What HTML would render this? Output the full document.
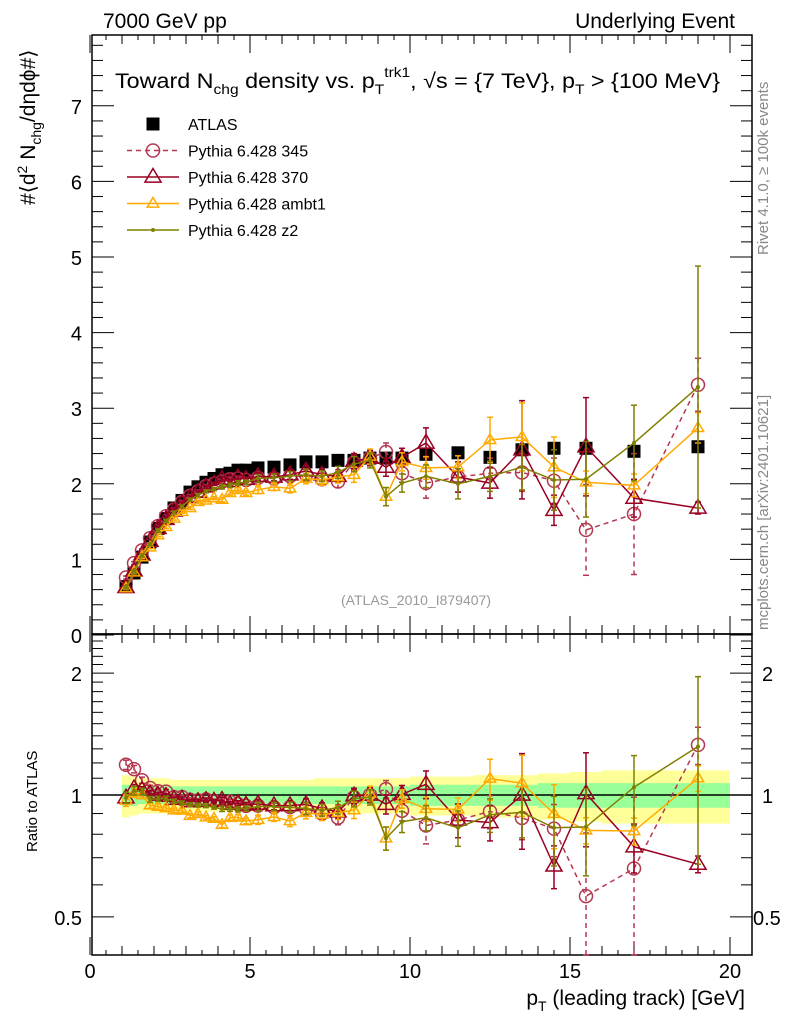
<!DOCTYPE html>
<html><head><meta charset="utf-8"><style>
body{margin:0;background:#fff;}
svg{display:block;font-family:"Liberation Sans",sans-serif;}
</style></head><body>
<svg id="c" width="786" height="1024" viewBox="0 0 786 1024" xmlns="http://www.w3.org/2000/svg"></svg>
<script>
const xs=[1.125,1.375,1.625,1.875,2.125,2.375,2.625,2.875,3.125,3.375,3.625,3.875,4.125,4.375,4.625,4.875,5.25,5.75,6.25,6.75,7.25,7.75,8.25,8.75,9.25,9.75,10.5,11.5,12.5,13.5,14.5,15.5,17,19];
const halfw=[0.125,0.125,0.125,0.125,0.125,0.125,0.125,0.125,0.125,0.125,0.125,0.125,0.125,0.125,0.125,0.125,0.25,0.25,0.25,0.25,0.25,0.25,0.25,0.25,0.25,0.25,0.5,0.5,0.5,0.5,0.5,0.5,1,1];
const atlas=[0.64,0.82,1.03,1.23,1.41,1.54,1.68,1.78,1.89,1.96,2.02,2.07,2.12,2.14,2.18,2.18,2.21,2.22,2.25,2.29,2.29,2.31,2.31,2.34,2.34,2.34,2.39,2.41,2.35,2.45,2.47,2.47,2.43,2.49];
const yellowHW=[0.12,0.11,0.1,0.1,0.1,0.1,0.09,0.09,0.09,0.09,0.09,0.09,0.09,0.09,0.09,0.09,0.09,0.09,0.09,0.09,0.1,0.1,0.1,0.1,0.1,0.1,0.11,0.11,0.12,0.12,0.13,0.14,0.15,0.15];
const greenHW=[0.06,0.06,0.05,0.05,0.05,0.05,0.05,0.05,0.05,0.05,0.05,0.05,0.05,0.05,0.05,0.05,0.05,0.05,0.05,0.05,0.05,0.05,0.05,0.05,0.05,0.05,0.06,0.06,0.06,0.06,0.07,0.07,0.07,0.07];
const p345=[0.76,0.95,1.12,1.28,1.44,1.57,1.66,1.76,1.84,1.90,1.97,2.00,2.03,2.06,2.07,2.05,2.08,2.07,2.10,2.12,2.06,2.03,2.28,2.34,2.42,2.14,2.01,2.09,2.14,2.15,2.04,1.39,1.60,3.31];
const e345=[0.02,0.02,0.02,0.02,0.02,0.02,0.02,0.02,0.02,0.02,0.02,0.02,0.03,0.03,0.03,0.03,0.05,0.05,0.06,0.07,0.07,0.08,0.1,0.1,0.12,0.12,0.2,0.2,0.2,0.25,0.3,0.6,0.8,0.35];
const p370=[0.63,0.85,1.06,1.24,1.41,1.53,1.64,1.74,1.82,1.89,1.96,2.00,2.06,2.03,2.08,2.06,2.10,2.09,2.12,2.17,2.12,2.10,2.30,2.34,2.22,2.35,2.54,2.09,2.01,2.45,1.65,2.49,1.81,1.68];
const e370=[0.02,0.02,0.02,0.02,0.02,0.02,0.02,0.02,0.02,0.02,0.02,0.02,0.03,0.03,0.03,0.03,0.05,0.05,0.06,0.07,0.07,0.08,0.1,0.1,0.12,0.12,0.2,0.2,0.2,0.65,0.2,0.65,0.25,0.08];
const pambt1=[0.62,0.83,1.03,1.16,1.32,1.43,1.54,1.63,1.68,1.76,1.78,1.81,1.79,1.88,1.92,1.88,1.92,1.96,1.94,2.07,2.05,2.09,2.12,2.36,1.83,2.29,2.21,2.22,2.58,2.62,2.22,2.02,1.98,2.74];
const eambt1=[0.02,0.02,0.02,0.02,0.02,0.02,0.02,0.02,0.02,0.02,0.02,0.02,0.03,0.03,0.03,0.03,0.05,0.05,0.06,0.07,0.07,0.08,0.1,0.1,0.12,0.12,0.15,0.15,0.3,0.45,0.4,0.15,0.15,0.2];
const pz2=[0.63,0.84,1.05,1.20,1.38,1.51,1.62,1.70,1.79,1.85,1.90,1.93,1.96,1.98,2.01,2.02,2.07,2.08,2.10,2.12,2.10,2.15,2.26,2.31,1.83,2.01,2.10,2.00,2.10,2.22,2.05,2.06,2.54,3.28];
const ez2=[0.02,0.02,0.02,0.02,0.02,0.02,0.02,0.02,0.02,0.02,0.02,0.02,0.03,0.03,0.03,0.03,0.05,0.05,0.06,0.07,0.07,0.08,0.1,0.1,0.12,0.12,0.15,0.2,0.2,0.3,0.4,0.5,0.5,1.6];
const yTicks=[0,1,2,3,4,5,6,7];
const xTicks=[0,5,10,15,20];
const rTicks=[0.5,1,2];

const NS="http://www.w3.org/2000/svg";
const svg=document.getElementById('c');
function mk(tag,attrs,parent){const e=document.createElementNS(NS,tag);for(const k in attrs)e.setAttribute(k,attrs[k]);(parent||svg).appendChild(e);return e;}
const L=92,R=752,T=35,M=634,B=955;
const X=v=>90+32*v;
const Y=v=>635-75.6*v;
const RY=v=>795-405*Math.log10(v);

function band(hw,color,name){
  let top='',bot='';
  for(let i=0;i<xs.length;i++){
    const x0=X(xs[i]-halfw[i]),x1=X(xs[i]+halfw[i]);
    top+=(i?'L':'M')+x0+' '+RY(1+hw[i])+'L'+x1+' '+RY(1+hw[i]);
  }
  for(let i=xs.length-1;i>=0;i--){
    const x0=X(xs[i]-halfw[i]),x1=X(xs[i]+halfw[i]);
    bot+='L'+x1+' '+RY(1-hw[i])+'L'+x0+' '+RY(1-hw[i]);
  }
  const p=mk('path',{d:top+bot+'Z',fill:color});
  
  
}
band(yellowHW,'#ffff99','ratio-band-total');
band(greenHW,'#99ff99','ratio-band-stat');
const one=mk('line',{x1:L,x2:R,y1:RY(1),y2:RY(1),stroke:'#000','stroke-width':1.5});



for(const [y0,y1,n] of [[T,M,'main-frame'],[M,B,'ratio-frame']]){
  const f=mk('rect',{x:L,y:y0,width:R-L,height:y1-y0,fill:'none',stroke:'#000','stroke-width':1.5});
  
  
}
const tg=mk('g',{stroke:'#000','stroke-width':1});


for(let v=0;v<=20.01;v+=0.5){
  const x=X(v);const maj=Math.abs(v%5)<0.01;const minor=Math.abs(v%1)<0.01;
  const len=maj?18:(minor?9:5);
  for(const [yb,dir] of [[M,-1],[T,1],[B,-1],[M,1]]){
    mk('line',{x1:x,x2:x,y1:yb,y2:yb+dir*len},tg);
  }
}
for(let v=0;v<=7.85;v+=0.2){
  const y=Y(v);if(y<T)continue;const maj=Math.abs(v-Math.round(v))<0.01;const len=maj?22:11;
  mk('line',{x1:L,x2:L+len,y1:y,y2:y},tg);mk('line',{x1:R,x2:R-len,y1:y,y2:y},tg);
}
for(let v=0.4;v<=2.5;v+=0.1){
  const y=RY(v);if(y<M||y>B)continue;const maj=rTicks.some(t=>Math.abs(t-v)<0.01);const len=maj?22:11;
  mk('line',{x1:L,x2:L+len,y1:y,y2:y},tg);mk('line',{x1:R,x2:R-len,y1:y,y2:y},tg);
}
for(const v of yTicks){
  const t=mk('text',{x:82,y:Y(v)+8,'font-size':20,'text-anchor':'end'});t.textContent=v;
  
}
for(const v of rTicks){
  const t=mk('text',{x:82,y:RY(v)+8,'font-size':20,'text-anchor':'end'});t.textContent=v;
  
  const t2=mk('text',{x:(v===0.5?753:762),y:RY(v)+8,'font-size':20});t2.textContent=v;
  
}
for(const v of xTicks){
  const t=mk('text',{x:X(v),y:978,'font-size':20,'text-anchor':'middle'});t.textContent=v;
  
}

function marker(g,type,x,y,color,sz){
  if(type==='sq')mk('rect',{x:x-6.5,y:y-6.5,width:13,height:13,fill:'#000'},g);
  else if(type==='circ')mk('circle',{cx:x,cy:y,r:sz,fill:'none',stroke:color,'stroke-width':1.5},g);
  else if(type==='tri')mk('path',{d:`M${x} ${y-sz}L${x+sz*0.95} ${y+sz*0.6}L${x-sz*0.95} ${y+sz*0.6}Z`,fill:'none',stroke:color,'stroke-width':1.5},g);
  else if(type==='dot')mk('circle',{cx:x,cy:y,r:sz,fill:color},g);
}
const series=[
 {name:'pythia-345',vals:p345,err:e345,color:'#b5364f',dash:'5,4',type:'circ',sz:6.5},
 {name:'pythia-370',vals:p370,err:e370,color:'#990022',dash:'',type:'tri',sz:8.5},
 {name:'pythia-ambt1',vals:pambt1,err:eambt1,color:'#ffaa00',dash:'',type:'tri',sz:6},
 {name:'pythia-z2',vals:pz2,err:ez2,color:'#808000',dash:'',type:'dot',sz:2}
];
const ag=mk('g',{});


atlas.forEach((v,i)=>marker(ag,'sq',X(xs[i]),Y(v)));
function drawSeries(s,Yf,ratio){
  const g=mk('g',{});
  
  
  const val=i=>ratio?s.vals[i]/atlas[i]:s.vals[i];
  const er=i=>ratio?s.err[i]/atlas[i]:s.err[i];
  let d='';
  s.vals.forEach((v,i)=>{d+=(i?'L':'M')+X(xs[i])+' '+Yf(val(i));});
  mk('path',{d,fill:'none',stroke:s.color,'stroke-width':1.5,'stroke-dasharray':s.dash},g);
  s.vals.forEach((v,i)=>{
    const x=X(xs[i]);const lo=Math.max(val(i)-er(i),0.01);
    let y1=Yf(val(i)+er(i)),y2=Yf(lo);
    if(ratio){y1=Math.max(y1,M);y2=Math.min(y2,B);}
    mk('line',{x1:x,x2:x,y1,y2,stroke:s.color,'stroke-width':1.5,'stroke-dasharray':s.dash},g);
    mk('line',{x1:x-3,x2:x+3,y1,y2:y1,stroke:s.color,'stroke-width':1.5},g);
    mk('line',{x1:x-3,x2:x+3,y1:y2,y2,stroke:s.color,'stroke-width':1.5},g);
    const yy=Yf(val(i));
    if(!ratio||(yy>M&&yy<B))marker(g,s.type,x,yy,s.color,s.sz);
  });
}
series.forEach(s=>drawSeries(s,Y,false));
series.forEach(s=>drawSeries(s,RY,true));

const lg=mk('g',{});


const legItems=[['ATLAS',null],['Pythia 6.428 345',series[0]],['Pythia 6.428 370',series[1]],['Pythia 6.428 ambt1',series[2]],['Pythia 6.428 z2',series[3]]];
legItems.forEach((it,i)=>{
  const y=124+26.5*i;
  const e=mk('g',{},lg);
  
  
  if(!it[1])marker(e,'sq',153,y);
  else{const s=it[1];mk('line',{x1:127,x2:179,y1:y,y2:y,stroke:s.color,'stroke-width':1.5,'stroke-dasharray':s.dash},e);
    marker(e,s.type,153,y,s.color,s.sz);}
  const t=mk('text',{x:188,y:y+6,'font-size':16},e);t.textContent=it[0];
});

function txt(attrs,html,name){const t=mk('text',attrs);t.innerHTML=html;return t;}
txt({x:103,y:28,'font-size':21},'7000 GeV pp','header-left');
txt({x:735,y:28,'font-size':21,'text-anchor':'end'},'Underlying Event','header-right');
txt({x:115,y:88,'font-size':21,textLength:605,lengthAdjust:'spacingAndGlyphs'},'Toward N<tspan font-size="14" dy="6">chg</tspan><tspan dy="-6"> density vs. p</tspan><tspan font-size="14" dy="6">T</tspan><tspan font-size="14" dy="-17">trk1</tspan><tspan dy="11">, √s = {7 TeV}, p</tspan><tspan font-size="14" dy="6">T</tspan><tspan dy="-6"> &gt; {100 MeV}</tspan>','plot-title');
txt({x:416,y:605,'font-size':14,fill:'#999','text-anchor':'middle'},'(ATLAS_2010_I879407)','analysis-id');
txt({x:0,y:0,'font-size':21,transform:'translate(35,205) rotate(-90)'},'#⟨d<tspan font-size="14" dy="-8">2</tspan><tspan dy="8"> N</tspan><tspan font-size="14" dy="6">chg</tspan><tspan dy="-6">/dηdϕ#⟩</tspan>','y-axis-title');
txt({x:0,y:0,'font-size':15,transform:'translate(37,852) rotate(-90)'},'Ratio to ATLAS','ratio-axis-title');
txt({x:745,y:1005,'font-size':21,'text-anchor':'end'},'p<tspan font-size="14" dy="6">T</tspan><tspan dy="-6"> (leading track) [GeV]</tspan>','x-axis-title');
txt({x:0,y:0,'font-size':15,fill:'#888',transform:'translate(768,255) rotate(-90)'},'Rivet 4.1.0, ≥ 100k events','rivet-label');
txt({x:0,y:0,'font-size':15,fill:'#888',transform:'translate(768,630) rotate(-90)'},'mcplots.cern.ch [arXiv:2401.10621]','mcplots-label');
</script>
</body></html>
